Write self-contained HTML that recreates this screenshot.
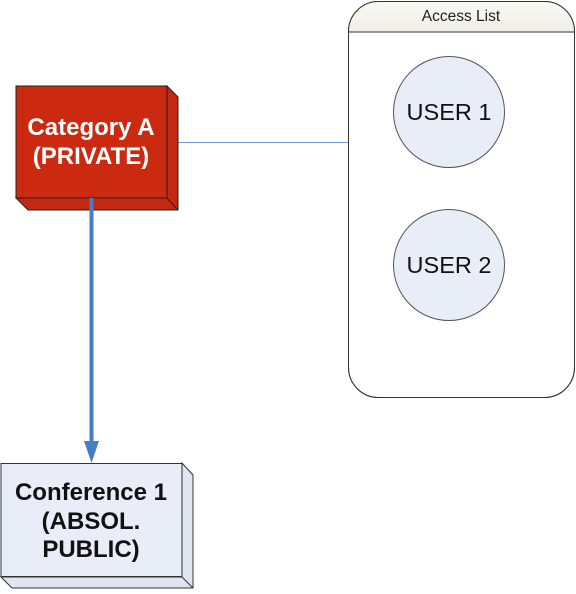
<!DOCTYPE html>
<html><head><style>body{margin:0;background:#fff}</style></head><body>
<svg width="576" height="589" xmlns="http://www.w3.org/2000/svg" font-family="Liberation Sans, Arial, sans-serif">
<defs><linearGradient id="h" x1="0" y1="0" x2="0" y2="1"><stop offset="0" stop-color="#fafaf5"/><stop offset="1" stop-color="#eeeee6"/></linearGradient></defs>
<rect x="348.5" y="1.5" width="226" height="396" rx="30" fill="#fff" stroke="#333" stroke-width="1"/>
<path d="M348.5 32 V31.5 A30 30 0 0 1 378.5 1.5 H544.5 A30 30 0 0 1 574.5 31.5 V32 Z" fill="url(#h)"/>
<line x1="348.5" y1="32" x2="574.5" y2="32" stroke="#333"/>
<rect x="348.5" y="1.5" width="226" height="396" rx="30" fill="none" stroke="#333" stroke-width="1"/>
<text x="461" y="21" font-size="15.5" text-anchor="middle" fill="#222">Access List</text>
<circle cx="449" cy="112" r="55.5" fill="#e8edf7" stroke="#555"/>
<text x="449" y="120" font-size="23.5" text-anchor="middle" fill="#111">USER 1</text>
<circle cx="449" cy="265" r="55.5" fill="#e8edf7" stroke="#555"/>
<text x="449" y="273" font-size="23.5" text-anchor="middle" fill="#111">USER 2</text>
<line x1="167" y1="142.5" x2="348" y2="142.5" stroke="#6d9be0" stroke-width="1"/>
<polygon points="167,86 178,97 178,210 28,210 16,198 167,198" fill="#c52710" stroke="#222"/>
<line x1="167" y1="198" x2="178" y2="210" stroke="#222"/>
<rect x="16" y="86" width="151" height="112" fill="#cb2a10" stroke="#222"/>
<text x="91" y="135" font-size="24" font-weight="bold" text-anchor="middle" fill="#fff">Category A</text>
<text x="91" y="164" font-size="24" font-weight="bold" text-anchor="middle" fill="#fff">(PRIVATE)</text>
<line x1="91.5" y1="198" x2="91.5" y2="442" stroke="#4a7cc6" stroke-width="4"/>
<polygon points="84,441 99,441 91.5,463" fill="#4a7cc6"/>
<polygon points="182,463 193,475 193,588 12,588 1,577 182,577" fill="#dfe6f2" stroke="#333"/>
<line x1="182" y1="577" x2="193" y2="588" stroke="#333"/>
<rect x="1" y="463.5" width="181" height="113" fill="#e8edf7" stroke="#333"/>
<text x="91" y="500" font-size="24" font-weight="bold" text-anchor="middle" fill="#111">Conference 1</text>
<text x="91" y="529" font-size="24" font-weight="bold" text-anchor="middle" fill="#111">(ABSOL.</text>
<text x="91" y="557" font-size="24" font-weight="bold" text-anchor="middle" fill="#111">PUBLIC)</text>
</svg>
</body></html>
